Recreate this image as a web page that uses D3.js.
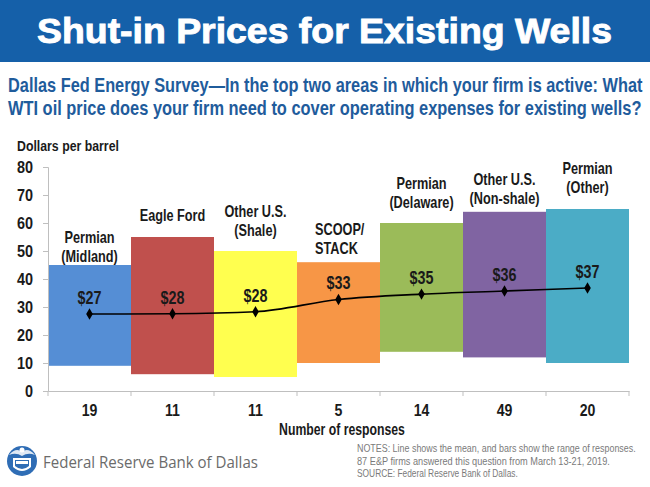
<!DOCTYPE html>
<html>
<head>
<meta charset="utf-8">
<script src="https://cdn.jsdelivr.net/npm/d3@7"></script>
<style>
  html, body { margin: 0; padding: 0; background: #fff; }
  svg { display: block; }
</style>
</head>
<body>
<svg id="chart" width="650" height="487"></svg>
<script>
// ---------------- data ----------------
const categories = ["Permian (Midland)", "Eagle Ford", "Other U.S. (Shale)", "SCOOP/STACK",
                    "Permian (Delaware)", "Other U.S. (Non-shale)", "Permian (Other)"];
const labelLines = [["Permian", "(Midland)"], ["Eagle Ford"], ["Other U.S.", "(Shale)"], ["SCOOP/", "STACK"],
                    ["Permian", "(Delaware)"], ["Other U.S.", "(Non-shale)"], ["Permian", "(Other)"]];
const responses = [19, 11, 11, 5, 14, 49, 20];
const rangeLow  = [9, 6, 5, 10, 14, 12, 10];
const rangeHigh = [45, 55, 50, 46, 60, 64, 65];
const meanValues = [27.5, 27.6, 28.3, 32.7, 34.6, 35.7, 36.8];
const meanLabels = ["$27", "$28", "$28", "$33", "$35", "$36", "$37"];
const yTicks = [0, 10, 20, 30, 40, 50, 60, 70, 80];
const barColors = ["#558ed5", "#c0504d", "#ffff4f", "#f79646", "#9bbb59", "#8064a2", "#4bacc6"];

// ---------------- layout ----------------
const svg = d3.select("#chart");
const W = 650, H = 487;
const plot = { left: 48, right: 629, top: 167, bottom: 391 };
const labelGap = [9, 22, 21, 14, 21, 14, 22];   // px between bar top and category label
const sans = '"Liberation Sans", Arial, sans-serif';

// squeeze text horizontally (by factor, or to a target width) around its anchor
function squeeze(sel, f, target) {
  sel.each(function() {
    const t = d3.select(this);
    const L = this.getComputedTextLength();
    const k = target ? target / L : f;
    const x0 = +t.attr("x") || 0, y0 = +t.attr("y") || 0;
    t.attr("x", 0).attr("y", 0).attr("transform", `translate(${x0},${y0}) scale(${k},1)`);
  });
}

const rows = categories.map((c, i) => ({
  cat: c, lines: labelLines[i], n: responses[i], lo: rangeLow[i], hi: rangeHigh[i],
  mean: meanValues[i], ml: meanLabels[i], color: barColors[i], gap: labelGap[i]
}));

const x = d3.scaleBand().domain(categories).range([plot.left, plot.right]).padding(0);
const y = d3.scaleLinear().domain([0, 80]).range([plot.bottom, plot.top]);

// ---------------- banner ----------------
svg.append("rect").attr("x", 0).attr("y", 0).attr("width", W).attr("height", 62).attr("fill", "#1560a9");
svg.append("text").attr("x", 37).attr("y", 43)
  .style("font-family", sans).style("font-weight", "bold")
  .style("font-size", "35px").attr("fill", "#fff").attr("stroke", "#fff").attr("stroke-width", 0.9)
  .text("Shut-in Prices for Existing Wells")
  .call(squeeze, null, 575);

const sub = [
  {t: "Dallas Fed Energy Survey\u2014In the top two areas in which your firm is active: What", y: 92, w: 635},
  {t: "WTI oil price does your firm need to cover operating expenses for existing wells?", y: 115, w: 634}
];
svg.selectAll("text.sub").data(sub).join("text").attr("class", "sub")
  .attr("x", 8).attr("y", d => d.y)
  .style("font-family", sans).style("font-weight", "bold").style("font-size", "20px")
  .attr("fill", "#1f5c9c").text(d => d.t)
  .each(function(d) { d3.select(this).call(squeeze, null, d.w); });

// ---------------- bars ----------------
const g = svg.append("g");
g.selectAll("rect.bar").data(rows).join("rect").attr("class", "bar")
  .attr("x", d => x(d.cat)).attr("width", x.bandwidth())
  .attr("y", d => y(d.hi)).attr("height", d => y(d.lo) - y(d.hi))
  .attr("fill", d => d.color);

// ---------------- axes ----------------
const yAxis = g.append("g").attr("transform", `translate(${plot.left},0)`)
  .call(d3.axisLeft(y).tickValues(yTicks).tickSize(5).tickPadding(10));
yAxis.select(".domain").attr("stroke", "#bfbfbf");
yAxis.selectAll(".tick line").attr("stroke", "#bfbfbf");
yAxis.selectAll(".tick text").style("font-family", sans).style("font-weight", "bold")
  .style("font-size", "17px").attr("fill", "#1a1a1a").call(squeeze, 0.85);

const xAxis = g.append("g").attr("transform", `translate(0,${plot.bottom})`)
  .call(d3.axisBottom(x).tickSize(0).tickPadding(13).tickFormat((d, i) => responses[i]));
xAxis.select(".domain").attr("stroke", "#bfbfbf");
xAxis.selectAll(".tick text").style("font-family", sans).style("font-weight", "bold")
  .style("font-size", "17px").attr("fill", "#1a1a1a").call(squeeze, 0.83);
// band-edge tick marks
const edges = categories.map(c => x(c)).concat([x(categories[categories.length - 1]) + x.bandwidth()]);
g.selectAll("line.edge").data(edges).join("line").attr("class", "edge")
  .attr("x1", d => d).attr("x2", d => d).attr("y1", plot.bottom).attr("y2", plot.bottom + 5)
  .attr("stroke", "#bfbfbf");

// axis titles
svg.append("text").attr("x", 17).attr("y", 151)
  .style("font-family", sans).style("font-weight", "bold").style("font-size", "15.5px")
  .attr("fill", "#1a1a1a").text("Dollars per barrel").call(squeeze, null, 102);
svg.append("text").attr("x", 342).attr("y", 435).attr("text-anchor", "middle")
  .style("font-family", sans).style("font-weight", "bold").style("font-size", "17px")
  .attr("fill", "#1a1a1a").text("Number of responses").call(squeeze, null, 126);

// ---------------- category labels ----------------
const catG = g.selectAll("g.cat").data(rows).join("g").attr("class", "cat");
catG.each(function(d) {
  const sel = d3.select(this);
  const isScoop = d.cat === "SCOOP/STACK";
  const cx = isScoop ? x(d.cat) + 18 : x(d.cat) + x.bandwidth() / 2;
  const bottomCenter = y(d.hi) - d.gap;
  const n = d.lines.length;
  sel.selectAll("text").data(d.lines).join("text")
    .attr("x", cx).attr("y", (t, j) => bottomCenter - (n - 1 - j) * 19 + 6)
    .attr("text-anchor", isScoop ? "start" : "middle")
    .style("font-family", sans).style("font-weight", "bold").style("font-size", "16.5px")
    .attr("fill", "#1a1a1a").text(t => t)
    .call(squeeze, 0.77);
});

// ---------------- mean line ----------------
const cxOf = d => x(d.cat) + x.bandwidth() / 2;
const line = d3.line().x(cxOf).y(d => y(d.mean)).curve(d3.curveMonotoneX);
g.append("path").datum(rows).attr("d", line).attr("fill", "none").attr("stroke", "#000").attr("stroke-width", 1.6);
g.selectAll("path.mk").data(rows).join("path").attr("class", "mk")
  .attr("transform", d => `translate(${cxOf(d)},${y(d.mean)})`)
  .attr("d", d3.symbol(d3.symbolDiamond, 38)).attr("fill", "#000");
g.selectAll("text.ml").data(rows).join("text").attr("class", "ml")
  .attr("x", cxOf).attr("y", d => y(d.mean) - 10).attr("text-anchor", "middle")
  .style("font-family", sans).style("font-weight", "bold").style("font-size", "17.5px")
  .attr("fill", "#1a1a1a").text(d => d.ml)
  .call(squeeze, 0.82);

// ---------------- footer ----------------
const logo = svg.append("g").attr("transform", "translate(22,461)");
logo.append("circle").attr("r", 15).attr("fill", "#2f6db5");
logo.append("path").attr("d", "M-9,-3 L9,-3 L9,6 Q0,14 -9,6 Z").attr("fill", "#fff");
logo.append("path").attr("d", "M-7,-1 L7,-1 L7,5 Q0,11 -7,5 Z").attr("fill", "#2f6db5");
logo.append("rect").attr("x", -6).attr("y", 0).attr("width", 12).attr("height", 3).attr("fill", "#fff");
logo.append("path").attr("d", "M-13,-6 Q-6,-14 0,-9 Q6,-14 13,-6 Q6,-9 0,-5 Q-6,-9 -13,-6 Z").attr("fill", "#fff").attr("opacity", 0.85);
logo.append("circle").attr("cy", -11).attr("r", 2.5).attr("fill", "#fff");

svg.append("text").attr("x", 43).attr("y", 468)
  .style("font-family", '"Open Sans", "Liberation Sans", sans-serif').style("font-size", "17px")
  .attr("fill", "#6b6b6b").text("Federal Reserve Bank of Dallas").call(squeeze, null, 215);

const notes = [
  {t: "NOTES: Line shows the mean, and bars show the range of responses.", y: 452, w: 279},
  {t: "87 E&P firms answered this question from March 13-21, 2019.", y: 465, w: 253},
  {t: "SOURCE: Federal Reserve Bank of Dallas.", y: 477, w: 161}
];
svg.selectAll("text.note").data(notes).join("text").attr("class", "note")
  .attr("x", 357).attr("y", d => d.y)
  .style("font-family", sans).style("font-size", "11px")
  .attr("fill", "#7a7a7a").text(d => d.t)
  .each(function(d) { d3.select(this).call(squeeze, null, d.w); });
</script>
</body>
</html>
